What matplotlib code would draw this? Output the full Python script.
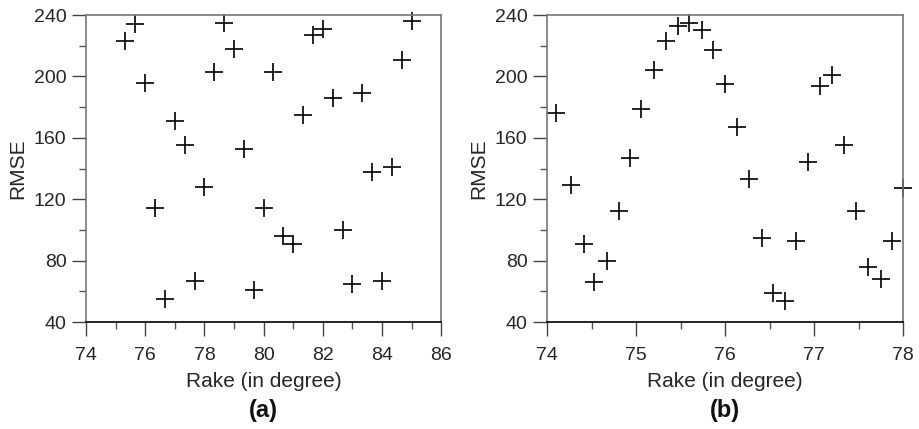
import matplotlib
matplotlib.use('Agg')
import matplotlib.pyplot as plt
from matplotlib.ticker import MultipleLocator

plt.rcParams['font.family'] = ['Liberation Sans', 'DejaVu Sans']

# Panel (a): rake vs RMSE
rake_a = [75.33, 75.67, 76.0, 76.33, 76.67, 77.0, 77.33, 77.67, 78.0, 78.33,
          78.67, 79.0, 79.33, 79.67, 80.0, 80.33, 80.67, 81.0, 81.33, 81.67,
          82.0, 82.33, 82.67, 83.0, 83.33, 83.67, 84.0, 84.33, 84.67, 85.0]
rmse_a = [223, 234, 196, 114, 55, 171, 155, 67, 128, 203,
          235, 218, 153, 61, 114, 203, 96, 91, 175, 227,
          231, 186, 100, 65, 189, 138, 67, 141, 211, 236]

# Panel (b): finer rake range
rake_b = [74.10, 74.27, 74.41, 74.53, 74.67, 74.81, 74.93, 75.06, 75.20, 75.34,
          75.47, 75.60, 75.74, 75.87, 76.00, 76.13, 76.27, 76.41, 76.54, 76.67,
          76.80, 76.93, 77.07, 77.20, 77.34, 77.47, 77.61, 77.75, 77.88, 78.00]
rmse_b = [176, 129, 91, 66, 80, 112, 147, 179, 204, 223,
          233, 235, 230, 217, 195, 167, 133, 95, 59, 54,
          93, 144, 194, 201, 155, 112, 76, 68, 93, 127]

fig = plt.figure(figsize=(9.2, 4.29), dpi=100)


def draw_panel(ax, x, y, xlim, xmajor, xminor, tag):
    ax.plot(x, y, linestyle='none', marker='+', markersize=12.5,
            markeredgewidth=1.2, color='black', clip_on=False)
    ax.set_xlim(*xlim)
    ax.set_ylim(40, 240)
    ax.xaxis.set_major_locator(MultipleLocator(xmajor))
    ax.xaxis.set_minor_locator(MultipleLocator(xminor))
    ax.yaxis.set_major_locator(MultipleLocator(40))
    ax.yaxis.set_minor_locator(MultipleLocator(20))
    ax.tick_params(which='major', direction='out', length=10, width=1,
                   labelsize=14, labelcolor='#262626', color='#444444', pad=4)
    ax.tick_params(axis='x', which='major', pad=8)
    ax.tick_params(which='minor', direction='out', length=5, width=1, color='#555555')
    for side in ['left', 'top', 'right']:
        ax.spines[side].set_color('#777777')
        ax.spines[side].set_linewidth(1.2)
    ax.spines['bottom'].set_color('black')
    ax.spines['bottom'].set_linewidth(1.2)
    ax.set_xlabel('Rake (in degree)', fontsize=15, color='#262626', labelpad=6)
    ax.set_ylabel('RMSE', fontsize=15, color='#262626', labelpad=5)
    pos = ax.get_position()
    fig.text(pos.x0 + pos.width / 2, 0.044, tag, ha='center', va='center',
             fontsize=17, fontweight='bold', color='#111111')


ax1 = fig.add_axes([0.0935, 0.2494, 0.386, 0.7156])
draw_panel(ax1, rake_a, rmse_a, (74, 86), 2, 1, '(a)')

ax2 = fig.add_axes([0.5946, 0.2494, 0.387, 0.7156])
draw_panel(ax2, rake_b, rmse_b, (74, 78), 1, 0.5, '(b)')

fig.savefig('out.png', dpi=100)
